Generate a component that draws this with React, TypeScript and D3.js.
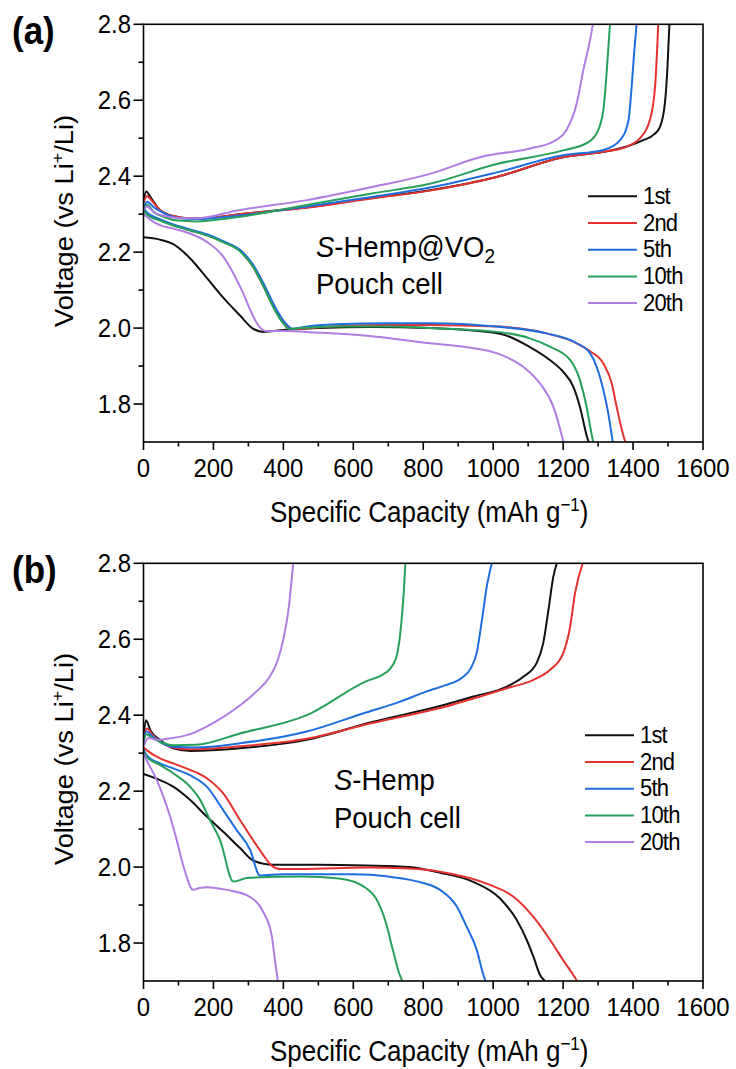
import React from 'react';
import * as d3 from 'd3';

type Pt = [number, number];

const cycleLabels = ['1st', '2nd', '5th', '10th', '20th'];
const cycleColors = ['#111111', '#e5322f', '#1f6edf', '#27a05c', '#b07de2'];

const xTicks = [0, 200, 400, 600, 800, 1000, 1200, 1400, 1600];
const xMinor = [100, 300, 500, 700, 900, 1100, 1300, 1500];
const yTicks = [1.8, 2.0, 2.2, 2.4, 2.6, 2.8];
const yMinor = [1.9, 2.1, 2.3, 2.5, 2.7];

// ---------- Panel (a): S-Hemp@VO2 ----------
const a1Charge: Pt[] = [[0,2.335],[8,2.36],[20,2.345],[47,2.311],[85,2.295],[133,2.289],[181,2.29],[276,2.3],[467,2.318],[657,2.343],[819,2.363],[1010,2.398],[1200,2.45],[1315,2.464],[1382,2.478],[1429,2.495],[1460,2.51],[1477,2.53],[1491,2.592],[1498,2.68],[1504,2.8]];
const a2Charge: Pt[] = [[0,2.33],[10,2.348],[25,2.334],[47,2.311],[85,2.295],[133,2.289],[181,2.29],[276,2.3],[467,2.317],[657,2.342],[819,2.362],[1010,2.398],[1200,2.45],[1315,2.464],[1382,2.478],[1420,2.5],[1448,2.548],[1463,2.636],[1472,2.8]];
const a5Charge: Pt[] = [[0,2.315],[10,2.333],[30,2.318],[60,2.302],[100,2.29],[150,2.287],[250,2.294],[467,2.32],[657,2.346],[819,2.37],[1010,2.41],[1200,2.455],[1315,2.469],[1363,2.495],[1387,2.548],[1396,2.636],[1403,2.724],[1410,2.8]];
const a10Charge: Pt[] = [[0,2.31],[10,2.325],[30,2.305],[60,2.292],[100,2.283],[150,2.281],[250,2.29],[467,2.324],[657,2.355],[819,2.38],[1010,2.432],[1200,2.468],[1267,2.487],[1296,2.513],[1315,2.574],[1325,2.68],[1334,2.8]];
const a20Charge: Pt[] = [[0,2.31],[10,2.32],[30,2.305],[60,2.295],[100,2.29],[150,2.289],[276,2.311],[467,2.337],[657,2.372],[819,2.406],[962,2.45],[1105,2.473],[1172,2.491],[1210,2.522],[1239,2.592],[1258,2.68],[1277,2.759],[1285,2.8]];

const a1Discharge: Pt[] = [[0,2.239],[47,2.233],[85,2.221],[133,2.184],[181,2.132],[228,2.08],[276,2.033],[314,1.998],[343,1.99],[400,1.995],[500,2.0],[650,2.003],[819,2.0],[1016,1.986],[1105,1.95],[1162,1.916],[1200,1.885],[1229,1.846],[1248,1.793],[1267,1.718],[1273,1.7]];
const a2Discharge: Pt[] = [[0,2.31],[9,2.302],[47,2.285],[85,2.271],[133,2.258],[181,2.245],[228,2.227],[276,2.204],[314,2.16],[343,2.11],[371,2.058],[400,2.015],[425,1.997],[450,1.998],[550,2.005],[700,2.008],[819,2.008],[1010,2.004],[1153,1.986],[1239,1.96],[1277,1.939],[1315,1.907],[1339,1.854],[1353,1.793],[1372,1.718],[1378,1.7]];
const a5Discharge: Pt[] = [[0,2.315],[9,2.305],[47,2.287],[85,2.273],[133,2.26],[181,2.247],[228,2.229],[276,2.206],[314,2.166],[343,2.118],[371,2.065],[400,2.02],[428,1.998],[460,2.003],[550,2.01],[700,2.013],[819,2.013],[1010,2.004],[1153,1.986],[1239,1.96],[1277,1.934],[1296,1.898],[1315,1.837],[1329,1.776],[1339,1.718],[1342,1.7]];
const a10Discharge: Pt[] = [[0,2.31],[9,2.3],[47,2.283],[85,2.27],[133,2.257],[181,2.244],[228,2.226],[276,2.202],[314,2.16],[343,2.11],[371,2.055],[400,2.012],[415,1.998],[450,2.0],[550,2.004],[700,2.004],[819,2.0],[1010,1.99],[1105,1.973],[1162,1.951],[1220,1.916],[1248,1.863],[1267,1.793],[1282,1.718],[1286,1.7]];
const a20Discharge: Pt[] = [[0,2.3],[20,2.285],[47,2.271],[85,2.262],[133,2.249],[181,2.227],[228,2.188],[257,2.144],[285,2.092],[305,2.048],[330,2.005],[350,1.992],[400,1.992],[500,1.988],[639,1.98],[819,1.96],[915,1.951],[1010,1.934],[1086,1.898],[1134,1.854],[1172,1.793],[1196,1.718],[1201,1.7]];

// ---------- Panel (b): S-Hemp ----------
const b1Charge: Pt[] = [[0,2.34],[7,2.387],[20,2.36],[47,2.335],[85,2.313],[134,2.306],[276,2.313],[467,2.335],[657,2.383],[848,2.424],[943,2.449],[1039,2.475],[1086,2.501],[1124,2.537],[1143,2.589],[1158,2.677],[1172,2.765],[1182,2.8]];
const b2Charge: Pt[] = [[0,2.34],[10,2.365],[25,2.35],[47,2.33],[85,2.315],[134,2.31],[276,2.318],[467,2.338],[657,2.38],[848,2.419],[1039,2.471],[1115,2.493],[1162,2.519],[1200,2.563],[1220,2.633],[1234,2.721],[1256,2.8]];
const b5Charge: Pt[] = [[0,2.33],[8,2.357],[25,2.345],[47,2.33],[85,2.317],[150,2.315],[276,2.326],[467,2.357],[636,2.407],[732,2.435],[808,2.462],[860,2.478],[910,2.498],[935,2.522],[953,2.565],[967,2.645],[981,2.735],[996,2.8]];
const b10Charge: Pt[] = [[0,2.33],[8,2.35],[25,2.34],[47,2.33],[85,2.321],[150,2.322],[276,2.352],[467,2.4],[636,2.489],[684,2.507],[705,2.522],[725,2.56],[737,2.64],[744,2.72],[749,2.8]];
const b20Charge: Pt[] = [[0,2.32],[15,2.34],[38,2.335],[70,2.338],[133,2.35],[200,2.38],[260,2.415],[320,2.46],[360,2.5],[382,2.54],[400,2.6],[415,2.68],[428,2.8]];

const b1Discharge: Pt[] = [[0,2.245],[47,2.229],[85,2.212],[133,2.177],[181,2.133],[228,2.093],[276,2.05],[314,2.017],[371,2.006],[500,2.006],[636,2.004],[760,2.0],[848,1.985],[943,1.961],[1019,1.918],[1067,1.861],[1096,1.808],[1115,1.764],[1134,1.716],[1148,1.7]];
const b2Discharge: Pt[] = [[0,2.315],[9,2.308],[47,2.286],[85,2.273],[133,2.256],[181,2.234],[228,2.194],[276,2.124],[314,2.07],[340,2.035],[365,2.005],[390,1.995],[450,1.995],[636,1.999],[760,1.996],[848,1.988],[991,1.953],[1058,1.922],[1115,1.869],[1163,1.808],[1200,1.755],[1229,1.716],[1240,1.7]];
const b5Discharge: Pt[] = [[0,2.31],[9,2.295],[47,2.273],[85,2.26],[133,2.242],[181,2.212],[228,2.15],[266,2.098],[305,2.045],[333,1.978],[400,1.981],[600,1.981],[700,1.975],[779,1.963],[848,1.94],[896,1.896],[924,1.843],[953,1.782],[972,1.716],[978,1.7]];
const b10Discharge: Pt[] = [[0,2.305],[9,2.29],[47,2.269],[85,2.247],[133,2.212],[162,2.177],[190,2.124],[219,2.071],[257,1.962],[300,1.972],[450,1.975],[560,1.97],[636,1.945],[665,1.917],[693,1.854],[713,1.782],[732,1.718],[740,1.7]];
const b20Discharge: Pt[] = [[0,2.3],[9,2.282],[38,2.229],[57,2.185],[76,2.133],[95,2.071],[115,2.0],[142,1.94],[160,1.945],[181,1.947],[238,1.94],[295,1.926],[343,1.881],[367,1.818],[376,1.754],[384,1.7]];

const panelACharge = [a1Charge, a2Charge, a5Charge, a10Charge, a20Charge];
const panelADischarge = [a1Discharge, a2Discharge, a5Discharge, a10Discharge, a20Discharge];
const panelBCharge = [b1Charge, b2Charge, b5Charge, b10Charge, b20Charge];
const panelBDischarge = [b1Discharge, b2Discharge, b5Discharge, b10Discharge, b20Discharge];

const FONT = "'Liberation Sans', Arial, Helvetica, sans-serif";
const LEFT = 143.5;
const RIGHT = 703;
const PH = 417.7;
const SY = 1.1;

function T(props: { x: number; y: number; size: number; anchor?: string; weight?: string; ls?: number; children: React.ReactNode }) {
  return (
    <text
      transform={`translate(${props.x},${props.y}) scale(1,${SY})`}
      textAnchor={props.anchor || 'start'}
      fontSize={props.size}
      fontWeight={props.weight || 'normal'}
      fontFamily={FONT}
      letterSpacing={props.ls || 0}
      fill="#000"
    >
      {props.children}
    </text>
  );
}

interface PanelProps {
  id: string;
  top: number;
  label: string;
  charge: Pt[][];
  discharge: Pt[][];
  material: 'vo2' | 'plain';
  annX: number;
  annY: number;
  legX: number;
  titleY: number;
}

function Panel(p: PanelProps) {
  const x = d3.scaleLinear().domain([0, 1600]).range([LEFT, RIGHT]);
  const y = d3.scaleLinear().domain([1.7, 2.8]).range([p.top + PH, p.top]);
  const line = d3.line<Pt>().x(d => x(d[0])).y(d => y(d[1])).curve(d3.curveMonotoneX);
  const bottom = p.top + PH;
  const legY0 = p.top + 172;
  const legStep = 26.7;
  return (
    <g>
      <defs>
        <clipPath id={`clip-${p.id}`}>
          <rect x={LEFT} y={p.top} width={RIGHT - LEFT} height={PH} />
        </clipPath>
      </defs>
      <g clipPath={`url(#clip-${p.id})`} fill="none" strokeWidth={2} strokeLinejoin="round">
        {p.discharge.map((s, i) => (
          <path key={`d${i}`} d={line(s) || ''} stroke={cycleColors[i]} />
        ))}
        {p.charge.map((s, i) => (
          <path key={`c${i}`} d={line(s) || ''} stroke={cycleColors[i]} />
        ))}
      </g>
      <rect x={LEFT} y={p.top} width={RIGHT - LEFT} height={PH} fill="none" stroke="#000" strokeWidth={1.6} />
      {yTicks.map(t => (
        <g key={`y${t}`}>
          <line x1={LEFT - 10} x2={LEFT} y1={y(t)} y2={y(t)} stroke="#000" strokeWidth={1.6} />
          <T x={131} y={y(t) + 9} size={24} anchor="end">{t.toFixed(1)}</T>
        </g>
      ))}
      {yMinor.map(t => (
        <line key={`ym${t}`} x1={LEFT - 5} x2={LEFT} y1={y(t)} y2={y(t)} stroke="#000" strokeWidth={1.6} />
      ))}
      {xTicks.map(t => (
        <g key={`x${t}`}>
          <line x1={x(t)} x2={x(t)} y1={bottom} y2={bottom + 8} stroke="#000" strokeWidth={1.6} />
          <T x={x(t)} y={bottom + 35} size={24} anchor="middle">{t}</T>
        </g>
      ))}
      {xMinor.map(t => (
        <line key={`xm${t}`} x1={x(t)} x2={x(t)} y1={bottom} y2={bottom + 4.5} stroke="#000" strokeWidth={1.6} />
      ))}
      <T x={(LEFT + RIGHT) / 2 + 6} y={bottom + 80} size={26} anchor="middle">
        Specific Capacity (mAh g<tspan dy={-10} fontSize={17}>−1</tspan><tspan dy={10}>)</tspan>
      </T>
      <text transform={`translate(73, ${p.titleY}) rotate(-90) scale(1.05,1)`} textAnchor="middle" fontSize={26} fontFamily={FONT}>
        Voltage (vs Li<tspan dy={-10} fontSize={17}>+</tspan><tspan dy={10}>/Li)</tspan>
      </text>
      <T x={12} y={p.top + 20} size={35} weight="bold">{p.label}</T>
      <T x={p.annX} y={p.annY} size={27.5}>
        <tspan fontStyle="italic">S</tspan>-Hemp{p.material === 'vo2' ? '@VO' : ''}
        {p.material === 'vo2' ? <tspan dy={6} fontSize={19}>2</tspan> : null}
      </T>
      <T x={p.annX} y={p.annY + 37.5} size={27.5}>Pouch cell</T>
      {cycleLabels.map((lab, i) => (
        <g key={lab}>
          <line x1={p.legX} x2={p.legX + 49} y1={legY0 + i * legStep} y2={legY0 + i * legStep} stroke={cycleColors[i]} strokeWidth={2} />
          <T x={p.legX + 55} y={legY0 + i * legStep + 7.5} size={22} ls={-0.8}>{lab}</T>
        </g>
      ))}
    </g>
  );
}

export default function App() {
  return (
    <svg width={736} height={1069} viewBox="0 0 736 1069" style={{ position: 'absolute', left: 0, top: 0, background: '#fff' }}>
      <rect x={0} y={0} width={736} height={1069} fill="#fff" />
      <Panel id="a" top={24.3} label="(a)" charge={panelACharge} discharge={panelADischarge} material="vo2" annX={316} annY={256.5} legX={588} titleY={221} />
      <Panel id="b" top={563.3} label="(b)" charge={panelBCharge} discharge={panelBDischarge} material="plain" annX={334} annY={790} legX={585} titleY={759} />
    </svg>
  );
}
